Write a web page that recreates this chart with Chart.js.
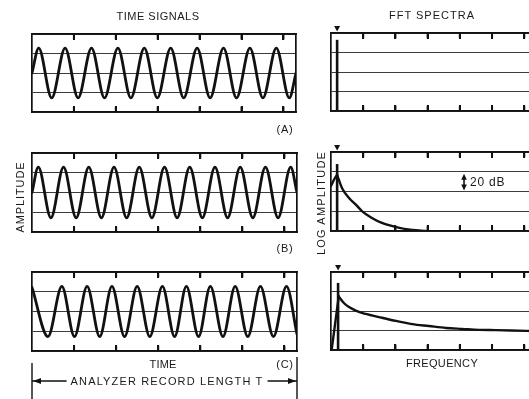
<!DOCTYPE html>
<html>
<head>
<meta charset="utf-8">
<script src="https://cdn.jsdelivr.net/npm/chart.js@4.4.0/dist/chart.umd.min.js"></script>
<style>
html,body{margin:0;padding:0;width:529px;height:399px;overflow:hidden;background:#fff;}
#stage{position:absolute;left:0;top:0;width:529px;height:399px;}
.t{position:absolute;font-family:"Liberation Sans",Arial,Helvetica,sans-serif;font-size:11px;color:#1a1a1a;line-height:1;white-space:pre;transform:translate(-50%,-50%);}
.tk{position:absolute;width:2px;height:6px;background:#111;}
</style>
</head>
<body>
<div id="stage"></div>
<div class="t" style="left:158px;top:16px;letter-spacing:0.5px;">TIME SIGNALS</div>
<div class="t" style="left:432px;top:15px;letter-spacing:1px;">FFT SPECTRA</div>
<div class="t" style="left:285px;top:129px;letter-spacing:0.8px;">(A)</div>
<div class="t" style="left:285px;top:248px;letter-spacing:0.8px;">(B)</div>
<div class="t" style="left:285px;top:364px;letter-spacing:0.8px;">(C)</div>
<div class="t" style="left:163px;top:364px;letter-spacing:0.2px;">TIME</div>
<div class="t" style="left:442px;top:363px;letter-spacing:0.35px;">FREQUENCY</div>
<div class="t" style="left:20px;top:197px;letter-spacing:0.9px;transform:translate(-50%,-50%) rotate(-90deg);">AMPLITUDE</div>
<div class="t" style="left:321px;top:203px;letter-spacing:1.2px;transform:translate(-50%,-50%) rotate(-90deg);">LOG AMPLITUDE</div>
<div class="t" style="left:470px;top:182px;font-size:12px;letter-spacing:0.8px;transform:translate(0,-50%);">20 dB</div>
<div class="t" style="left:167px;top:381px;letter-spacing:1.15px;background:#fff;padding:0 4px;">ANALYZER RECORD LENGTH T</div>

<script>
// ---- tick positions (divisions) ----
const timeTicks = [1, 2, 3, 4, 5, 6];
const freqTicks = [1, 2, 3, 4, 5, 6];

// ---- time signals: extremes (time in divisions, amplitude in grid units) ----
const timeA = [0, 0.16, 0.47, 0.79, 1.10, 1.42, 1.73, 2.05, 2.36, 2.68, 2.99, 3.31, 3.62, 3.94, 4.25, 4.57, 4.88, 5.20, 5.51, 5.83, 6.14, 6.30];
const ampA  = [0, 1.28, -1.28, 1.28, -1.28, 1.28, -1.28, 1.28, -1.28, 1.28, -1.28, 1.28, -1.28, 1.28, -1.28, 1.28, -1.28, 1.28, -1.28, 1.28, -1.28, 0];

const timeB = [0, 0.15, 0.45, 0.75, 1.05, 1.35, 1.65, 1.95, 2.25, 2.55, 2.85, 3.15, 3.45, 3.75, 4.05, 4.35, 4.65, 4.95, 5.25, 5.55, 5.85, 6.15, 6.30];
const ampB  = [0, 1.28, -1.28, 1.28, -1.28, 1.28, -1.28, 1.28, -1.28, 1.28, -1.28, 1.28, -1.28, 1.28, -1.28, 1.28, -1.28, 1.28, -1.28, 1.28, -1.28, 1.28, 0];

const timeC = [0, 0.38, 0.71, 1.01, 1.31, 1.61, 1.90, 2.20, 2.50, 2.80, 3.10, 3.39, 3.67, 3.96, 4.24, 4.54, 4.83, 5.13, 5.43, 5.74, 6.05, 6.30];
const ampC  = [1.22, -1.27, 1.27, -1.27, 1.27, -1.27, 1.27, -1.27, 1.27, -1.27, 1.27, -1.27, 1.27, -1.27, 1.27, -1.27, 1.27, -1.27, 1.27, -1.27, 1.27, -1.15];

// ---- spectra (frequency in divisions, log level in grid units of 20 dB) ----
const freqB  = [0, 0.10, 0.19, 0.34, 0.56, 0.78, 0.96, 1.27, 1.58, 2.02, 2.52, 2.95];
const levelB = [2.28, 2.62, 2.84, 2.18, 1.67, 1.32, 1.01, 0.66, 0.41, 0.20, 0.05, 0];
const peakIdxB = 2;

const freqC  = [0.02, 0.24, 0.40, 0.56, 0.77, 0.96, 1.49, 2.02, 2.52, 3.04, 3.57, 4.07, 4.60, 5.12, 6.06, 6.83];
const levelC = [0, 2.75, 2.41, 2.20, 2.02, 1.90, 1.69, 1.49, 1.33, 1.23, 1.13, 1.08, 1.03, 1.02, 0.98, 0.97];
const peakIdxC = 1;

// spectral line of the signal frequency (panels A, B, C)
const lineFreq  = [0.19, 0.19, 0.22];
const lineLevel = [3.65, 3.39, 3.44];

const INK = '#111';

function pts(xs, ys) { return xs.map((x, i) => ({ x: x, y: ys[i] })); }

// one inward tick mark pair (top and bottom edge) at a single x value
function tickMark(v, n) {
  return {
    id: 'tickMark' + n,
    afterDraw(chart) {
      const { ctx, chartArea } = chart;
      const x = Math.round(chart.scales.x.getPixelForValue(v));
      ctx.save();
      ctx.fillStyle = INK;
      ctx.beginPath();
      ctx.moveTo(x - 1, chartArea.top); ctx.lineTo(x + 1, chartArea.top); ctx.lineTo(x + 1, chartArea.top + 6); ctx.lineTo(x - 1, chartArea.top + 6); ctx.closePath();
      ctx.moveTo(x - 1, chartArea.bottom); ctx.lineTo(x + 1, chartArea.bottom); ctx.lineTo(x + 1, chartArea.bottom - 6); ctx.lineTo(x - 1, chartArea.bottom - 6); ctx.closePath();
      ctx.fill();
      ctx.restore();
    }
  };
}
function tickPlugins(values) { return values.map((v, n) => tickMark(v, n)); }

// the same ticks as short line datasets (one per edge per tick)
function tickSets(values, ymin, ymax, len) {
  const out = [];
  values.forEach(v => {
    out.push({ data: [{ x: v, y: ymax }, { x: v, y: ymax - len }], xAxisID: 'x', yAxisID: 'y', borderColor: INK, borderWidth: 2, pointRadius: 0, fill: false, tension: 0, clip: false });
    out.push({ data: [{ x: v, y: ymin + len }, { x: v, y: ymin }], xAxisID: 'x', yAxisID: 'y', borderColor: INK, borderWidth: 2, pointRadius: 0, fill: false, tension: 0, clip: false });
  });
  return out;
}

// tick marks also placed as small elements positioned from the chart's own x scale
function tickOverlay(chart, wrap, values) {
  const sx = chart.scales.x, a = chart.chartArea;
  values.forEach(v => {
    const px = Math.round(sx.getPixelForValue(v));
    if (!isFinite(px)) return;
    const t1 = document.createElement('div'); t1.className = 'tk';
    t1.style.left = (px - 1) + 'px'; t1.style.top = Math.round(a.top) + 'px';
    const t2 = document.createElement('div'); t2.className = 'tk';
    t2.style.left = (px - 1) + 'px'; t2.style.top = (Math.round(a.bottom) - 6) + 'px';
    wrap.appendChild(t1); wrap.appendChild(t2);
  });
}

// ▼ marker above the frame at the signal frequency
function freqMarker(f) {
  return {
    id: 'freqMarker',
    afterDraw(chart) {
      const { ctx, chartArea } = chart;
      const x = chart.scales.x.getPixelForValue(f);
      const yb = chartArea.top - 1.5;
      ctx.save();
      ctx.fillStyle = INK;
      ctx.beginPath(); ctx.moveTo(x, yb); ctx.lineTo(x - 3, yb - 5.5); ctx.lineTo(x + 3, yb - 5.5); ctx.closePath(); ctx.fill();
      ctx.restore();
    }
  };
}

// double arrow spanning one 20 dB grid division
function dbArrow(xv, topv, botv) {
  return {
    id: 'dbArrow',
    afterDraw(chart) {
      const { ctx } = chart;
      const x = chart.scales.x.getPixelForValue(xv);
      const yt = chart.scales.y.getPixelForValue(topv) + 2;
      const yb = chart.scales.y.getPixelForValue(botv) - 1;
      ctx.save();
      ctx.strokeStyle = INK; ctx.fillStyle = INK; ctx.lineWidth = 1.6;
      ctx.beginPath(); ctx.moveTo(x, yt + 4); ctx.lineTo(x, yb - 4); ctx.stroke();
      ctx.beginPath(); ctx.moveTo(x, yt); ctx.lineTo(x - 2.8, yt + 6); ctx.lineTo(x + 2.8, yt + 6); ctx.closePath(); ctx.fill();
      ctx.beginPath(); ctx.moveTo(x, yb); ctx.lineTo(x - 2.8, yb - 6); ctx.lineTo(x + 2.8, yb - 6); ctx.closePath(); ctx.fill();
      ctx.restore();
    }
  };
}

// record length dimension arrow spanning the whole time axis
function recordArrow(lineOffset, leftBar, rightBar) {
  return {
    id: 'recordArrow',
    afterDraw(chart) {
      const { ctx, chartArea } = chart;
      const sx = chart.scales.x;
      const x0 = sx.getPixelForValue(sx.min), x1 = sx.getPixelForValue(sx.max);
      const yA = chartArea.bottom + lineOffset;
      const H = chart.height;
      ctx.save();
      ctx.strokeStyle = INK; ctx.fillStyle = INK; ctx.lineWidth = 1.4;
      ctx.beginPath();
      ctx.moveTo(x0, chartArea.bottom + leftBar); ctx.lineTo(x0, H);
      ctx.moveTo(x1, chartArea.bottom + rightBar); ctx.lineTo(x1, H);
      ctx.moveTo(x0, yA); ctx.lineTo(x1, yA);
      ctx.stroke();
      ctx.beginPath(); ctx.moveTo(x0 + 1, yA); ctx.lineTo(x0 + 9, yA - 3); ctx.lineTo(x0 + 9, yA + 3); ctx.closePath(); ctx.fill();
      ctx.beginPath(); ctx.moveTo(x1 - 1, yA); ctx.lineTo(x1 - 9, yA - 3); ctx.lineTo(x1 - 9, yA + 3); ctx.closePath(); ctx.fill();
      ctx.restore();
    }
  };
}

function axes(xmax, ymin, ymax) {
  const mk = () => ({ display: true, color: INK, width: 1.7 });
  const off = () => ({ display: false, drawTicks: false });
  return {
    x:  { type: 'linear', position: 'bottom', min: 0, max: xmax, grid: off(), ticks: { display: false }, border: mk() },
    x2: { type: 'linear', position: 'top', min: 0, max: xmax, grid: off(), ticks: { display: false }, border: mk() },
    y:  { type: 'linear', position: 'left', min: ymin, max: ymax, grid: { display: true, color: '#3c3c3c', lineWidth: 1, drawTicks: false }, ticks: { display: false, stepSize: 1 }, border: mk() },
    y2: { type: 'linear', position: 'right', min: ymin, max: ymax, grid: off(), ticks: { display: false }, border: mk() }
  };
}

function makeChart(box, pad, datasets, scales, plugins, tickValues) {
  const W = box.w + pad.left + pad.right, H = box.h + pad.top + pad.bottom;
  const wrap = document.createElement('div');
  wrap.style.cssText = 'position:absolute;left:' + (box.l - pad.left) + 'px;top:' + (box.t - pad.top) + 'px;width:' + W + 'px;height:' + H + 'px;';
  const cv = document.createElement('canvas');
  cv.width = W; cv.height = H; cv.style.width = W + 'px'; cv.style.height = H + 'px';
  wrap.appendChild(cv);
  document.getElementById('stage').appendChild(wrap);
  const chart = new Chart(cv, {
    type: 'line',
    data: { datasets: datasets },
    options: {
      responsive: false, animation: false,
      layout: { padding: pad, autoPadding: false },
      scales: scales,
      plugins: { legend: { display: false }, tooltip: { enabled: false } }
    },
    plugins: plugins
  });
  tickOverlay(chart, wrap, tickValues);
  return chart;
}

function wave(xs, ys) {
  return { data: pts(xs, ys), xAxisID: 'x', yAxisID: 'y', borderColor: INK, borderWidth: 2.8, pointRadius: 0, fill: false,
           cubicInterpolationMode: 'monotone', borderCapStyle: 'round', borderJoinStyle: 'round' };
}
function curve(data, mode) {
  return { data: data, xAxisID: 'x', yAxisID: 'y', borderColor: INK, borderWidth: 2.4, pointRadius: 0, fill: false,
           cubicInterpolationMode: 'monotone', tension: mode === 'straight' ? 0 : 0.4, borderCapStyle: 'round' };
}
function spike(i) {
  return { data: [{ x: lineFreq[i], y: 0 }, { x: lineFreq[i], y: lineLevel[i] }], xAxisID: 'x', yAxisID: 'y', borderColor: INK, borderWidth: 2.6, pointRadius: 0, fill: false };
}

const TMAX = 6.3;
const FMAX = 6.83;
const TL = 0.28; // inward tick length in grid units (~5.5 px)
const tPad = { left: 6, right: 6, top: 6, bottom: 6 };
const fPad = { left: 6, right: 6, top: 10, bottom: 6 };

// time signals
makeChart({ l: 32, t: 34, w: 264, h: 78 }, tPad, [wave(timeA, ampA)].concat(tickSets(timeTicks, -2, 2, TL)), axes(TMAX, -2, 2),
  tickPlugins(timeTicks), timeTicks);
makeChart({ l: 32, t: 153, w: 265, h: 79 }, tPad, [wave(timeB, ampB)].concat(tickSets(timeTicks, -2, 2, TL)), axes(TMAX, -2, 2),
  tickPlugins(timeTicks), timeTicks);
makeChart({ l: 32, t: 272, w: 265, h: 79 }, { left: 6, right: 6, top: 6, bottom: 48 }, [wave(timeC, ampC)].concat(tickSets(timeTicks, -2, 2, TL)), axes(TMAX, -2, 2),
  tickPlugins(timeTicks).concat([recordArrow(30, 12, 6)]), timeTicks);

// spectra
const dB = pts(freqB, levelB), dC = pts(freqC, levelC);
makeChart({ l: 331, t: 33, w: 220, h: 78 }, fPad, [spike(0)].concat(tickSets(freqTicks, 0, 4, TL)), axes(FMAX, 0, 4),
  tickPlugins(freqTicks).concat([freqMarker(lineFreq[0])]), freqTicks);
makeChart({ l: 331, t: 152, w: 220, h: 79 }, fPad,
  [curve(dB.slice(0, peakIdxB + 1)), curve(dB.slice(peakIdxB)), spike(1)].concat(tickSets(freqTicks, 0, 4, TL)), axes(FMAX, 0, 4),
  tickPlugins(freqTicks).concat([freqMarker(lineFreq[1]), dbArrow(4.13, 3, 2)]), freqTicks);
makeChart({ l: 331, t: 272, w: 220, h: 78 }, fPad,
  [curve(dC.slice(0, peakIdxC + 1), 'straight'), curve(dC.slice(peakIdxC)), spike(2)].concat(tickSets(freqTicks, 0, 4, TL)), axes(FMAX, 0, 4),
  tickPlugins(freqTicks).concat([freqMarker(lineFreq[2])]), freqTicks);
</script>
</body>
</html>
